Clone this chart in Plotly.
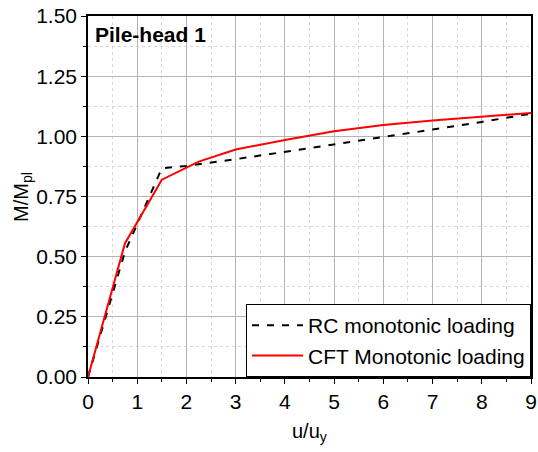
import plotly.graph_objects as go

# Data
rc_x = [0, 0.75, 1.5, 2.0, 3.0, 4.0, 5.0, 6.0, 7.0, 8.0, 9.0]
rc_y = [0, 0.52, 0.867, 0.877, 0.905, 0.935, 0.966, 0.997, 1.028, 1.06, 1.094]
cft_x = [0, 0.75, 1.5, 2.25, 3.0, 4.0, 5.0, 6.0, 7.0, 8.0, 9.0]
cft_y = [0, 0.555, 0.82, 0.895, 0.945, 0.985, 1.021, 1.047, 1.066, 1.082, 1.097]
x_ticks = list(range(0, 10))
y_ticks = [0, 0.25, 0.5, 0.75, 1.0, 1.25, 1.5]

font = "Liberation Sans, Arial, sans-serif"

fig = go.Figure()
fig.add_trace(go.Scatter(x=rc_x, y=rc_y, mode="lines", name="RC monotonic loading",
                         line=dict(color="black", width=2, dash="7px,8px")))
fig.add_trace(go.Scatter(x=cft_x, y=cft_y, mode="lines", name="CFT Monotonic loading",
                         line=dict(color="#ff0000", width=2)))

axis_common = dict(
    showline=True, mirror=True, linecolor="black", linewidth=1.5,
    ticks="outside", ticklen=5, tickwidth=1, tickcolor="black",
    showgrid=True, gridcolor="#b4b4b4", gridwidth=1,
    zeroline=False, automargin=False,
    tickfont=dict(family=font, size=21, color="black"),
)

fig.update_xaxes(
    range=[0, 9], tickvals=x_ticks, ticktext=[str(v) for v in x_ticks],
    minor=dict(dtick=0.5, tick0=0, ticks="outside", ticklen=3, tickcolor="black",
               showgrid=True, gridcolor="#d8d8d8", griddash="dot", gridwidth=1),
    **axis_common,
)
fig.update_yaxes(
    range=[0, 1.5], tickvals=y_ticks, ticktext=[f"{v:.2f}" for v in y_ticks],
    minor=dict(dtick=0.125, tick0=0, ticks="outside", ticklen=3, tickcolor="black",
               showgrid=True, gridcolor="#d8d8d8", griddash="dot", gridwidth=1),
    **axis_common,
)

# Axis titles
fig.add_annotation(text="u/u<sub>y</sub>", xref="paper", yref="paper", x=0.5, y=-0.113,
                   xanchor="center", yanchor="top", showarrow=False,
                   font=dict(family=font, size=20, color="black"))
fig.add_annotation(text="M/M<sub>pl</sub>", xref="paper", yref="paper", x=-0.148, y=0.5,
                   xanchor="center", yanchor="middle", showarrow=False, textangle=-90,
                   font=dict(family=font, size=20, color="black"))

fig.add_annotation(text="<b>Pile-head 1</b>", xref="paper", yref="paper", x=0.012, y=0.985,
                   xanchor="left", yanchor="top", showarrow=False,
                   font=dict(family=font, size=21, color="black"))

fig.update_layout(
    width=538, height=452,
    margin=dict(l=88, r=7, t=16, b=75),
    paper_bgcolor="white", plot_bgcolor="white",
    font=dict(family=font, color="black"),
    legend=dict(x=1, y=0, xanchor="right", yanchor="bottom",
                bordercolor="black", borderwidth=1, bgcolor="white",
                font=dict(family=font, size=21, color="black"),
                itemwidth=51, tracegroupgap=0),
)

fig.write_html("out.html")
